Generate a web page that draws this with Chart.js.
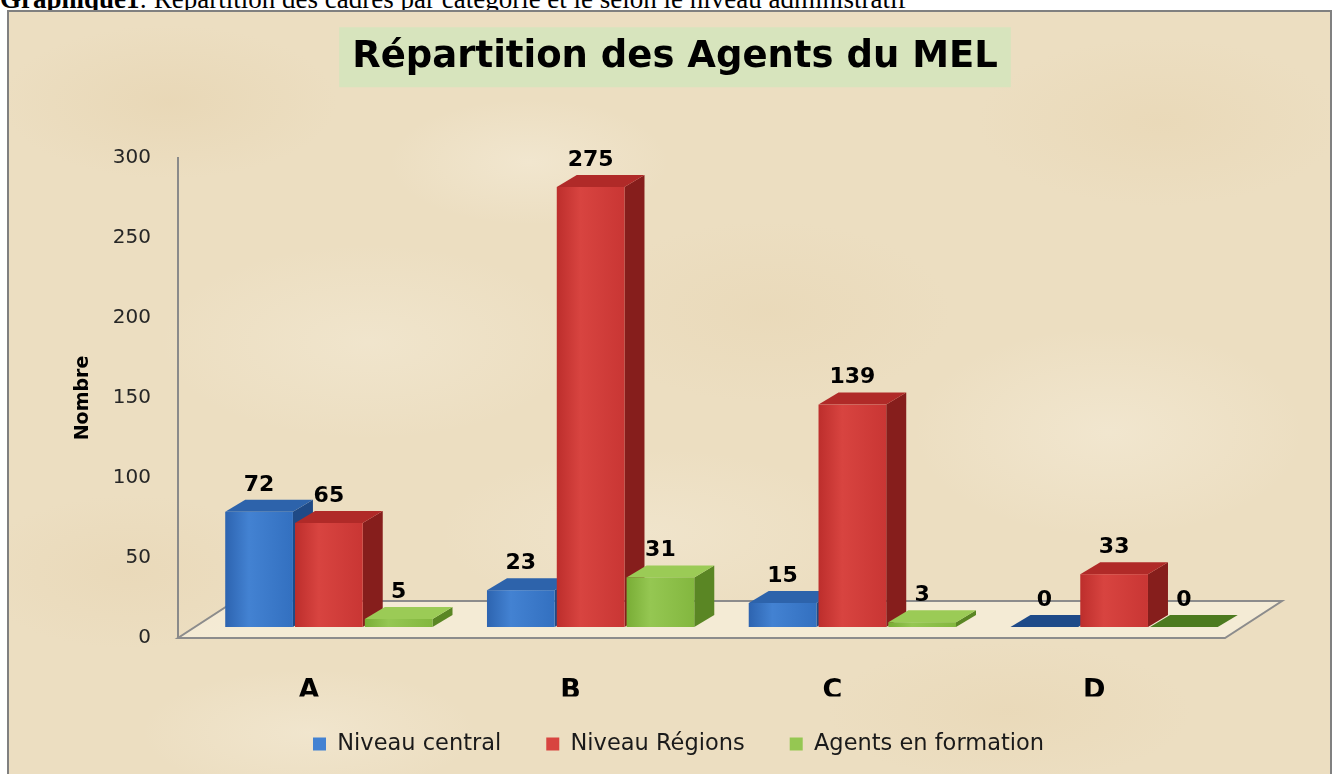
<!DOCTYPE html>
<html lang="fr">
<head>
<meta charset="utf-8">
<title>Répartition des Agents du MEL</title>
<script src="https://cdn.jsdelivr.net/npm/chart.js@4.4.1/dist/chart.umd.min.js"></script>
<style>
  html, body { margin: 0; padding: 0; background: #fff; overflow: hidden; }
  body { width: 1333px; height: 774px; position: relative; }
  #caption {
    position: absolute; left: 0; top: -16px; line-height: 27px;
    font: 27px "Liberation Serif", "Times New Roman", serif; color: #000; white-space: nowrap;
  }
  #frame {
    position: absolute; left: 7px; top: 10px; width: 1321px; height: 800px;
    border: 2px solid #808080;
    background-color: #ecdec1;
    background-image:
      radial-gradient(ellipse 240px 110px at 160px 90px, rgba(226,204,164,0.35), transparent 70%),
      radial-gradient(ellipse 200px 90px at 520px 150px, rgba(246,238,220,0.5), transparent 70%),
      radial-gradient(ellipse 260px 120px at 1150px 110px, rgba(228,206,166,0.3), transparent 70%),
      radial-gradient(ellipse 300px 140px at 360px 330px, rgba(245,237,218,0.45), transparent 70%),
      radial-gradient(ellipse 260px 130px at 760px 300px, rgba(228,208,170,0.3), transparent 70%),
      radial-gradient(ellipse 280px 150px at 1100px 420px, rgba(246,238,220,0.5), transparent 70%),
      radial-gradient(ellipse 220px 110px at 120px 560px, rgba(228,206,168,0.3), transparent 70%),
      radial-gradient(ellipse 300px 120px at 640px 520px, rgba(244,235,215,0.45), transparent 70%),
      radial-gradient(ellipse 260px 100px at 1000px 700px, rgba(228,207,168,0.3), transparent 70%),
      radial-gradient(ellipse 240px 90px at 300px 720px, rgba(246,238,220,0.45), transparent 70%);
  }
  #chart { position: absolute; left: 0; top: 0; }
</style>
</head>
<body>
<div id="caption"><b>Graphique1</b>: Répartition des cadres par catégorie et le selon le niveau administratif</div>
<div id="frame"></div>
<canvas id="chart" width="1333" height="774"></canvas>
<script>
// values
const categories = ['A', 'B', 'C', 'D'];
const seriesNames = ['Niveau central', 'Niveau Régions', 'Agents en formation'];
const niveauCentral = [72, 23, 15, 0];
const niveauRegions = [65, 275, 139, 33];
const agentsFormation = [5, 31, 3, 0];
const yTicks = [0, 50, 100, 150, 200, 250, 300];

// colours for the 3d boxes (front gradient, top, side, flat for zero values)
const shades = [
    {front: ['#2d64b0', '#4382d2', '#3370c0'], top: '#2d63ab', side: '#1f4a86', flat: '#1e4a88'},
    {front: ['#bd2e2c', '#d84440', '#c93634'], top: '#b02a28', side: '#861e1c', flat: '#9a2422'},
    {front: ['#79ad36', '#95c752', '#83b73f'], top: '#9bcb56', side: '#5a8624', flat: '#4c7a1f'}
];

const FLOOR_DEPTH = {x: 57, y: -37};
const BAR_SHIFT = {x: 20, y: -11};   // bars stand inside the floor, not on its front edge
const BAR_DEPTH = {x: 20, y: -12};

Chart.defaults.font.family = '"DejaVu Sans", sans-serif';

function poly(ctx, pts, fill) {
    ctx.beginPath();
    ctx.moveTo(pts[0][0], pts[0][1]);
    for (let k = 1; k < pts.length; k++) ctx.lineTo(pts[k][0], pts[k][1]);
    ctx.closePath();
    ctx.fillStyle = fill;
    ctx.fill();
}

// move title and legend to where they sit in the original
const placeBlocks = {
    id: 'placeBlocks',
    afterLayout(chart) {
        const t = chart.titleBlock;
        const dxT = 675 - (t.left + t.right) / 2;
        t.left += dxT;
        t.right += dxT;

        const lg = chart.legend;
        const pad = lg.options.labels.padding;
        const itemH = Math.max(lg.options.labels.font.size, lg.options.labels.boxHeight);
        const startX = (lg.left + pad + lg.right - lg.lineWidths[0]) / 2;
        const dx = 313 - startX;
        const dy = 744 - (lg.top + pad + itemH / 2);
        lg.left += dx; lg.right += dx;
        lg.top += dy; lg.bottom += dy;
    }
};

// light green box behind the title
const titleBox = {
    id: 'titleBox',
    beforeDraw(chart) {
        const {ctx} = chart;
        const t = chart.titleBlock;
        const f = t.options.font;
        ctx.save();
        ctx.font = 'bold ' + f.size + 'px ' + Chart.defaults.font.family;
        const w = ctx.measureText(t.options.text).width + 26;
        const cx = (t.left + t.right) / 2;
        const cy = t.top + t.options.padding.top + f.size * 0.6;
        ctx.fillStyle = '#d7e4bd';
        ctx.fillRect(cx - w / 2, cy - 30, w, 60);
        ctx.restore();
    }
};

// floor + 3d bars + value labels
const bars3d = {
    id: 'bars3d',
    beforeDatasetsDraw(chart) {
        const {ctx, chartArea: a, scales: {y}} = chart;
        const y0 = y.getPixelForValue(0);
        ctx.save();

        poly(ctx, [[a.left, y0], [a.right, y0], [a.right + FLOOR_DEPTH.x, y0 + FLOOR_DEPTH.y], [a.left + FLOOR_DEPTH.x, y0 + FLOOR_DEPTH.y]], 'rgba(255,250,238,0.45)');
        ctx.strokeStyle = '#8c8c8c';
        ctx.lineWidth = 2;
        ctx.stroke();

        const labels = [];
        for (let j = 0; j < categories.length; j++) {
            chart.data.datasets.forEach((ds, i) => {
                const el = chart.getDatasetMeta(i).data[j];
                const s = shades[i];
                const l = el.x - el.width / 2 + BAR_SHIFT.x;
                const r = el.x + el.width / 2 + BAR_SHIFT.x;
                const t = el.y + BAR_SHIFT.y;
                const b = el.base + BAR_SHIFT.y;
                const dx = BAR_DEPTH.x, dy = BAR_DEPTH.y;

                if (b - t > 0.5) {
                    poly(ctx, [[r, b], [r + dx, b + dy], [r + dx, t + dy], [r, t]], s.side);
                    poly(ctx, [[l, t], [l + dx, t + dy], [r + dx, t + dy], [r, t]], s.top);
                    const g = ctx.createLinearGradient(l, 0, r, 0);
                    g.addColorStop(0, s.front[0]);
                    g.addColorStop(0.35, s.front[1]);
                    g.addColorStop(1, s.front[2]);
                    ctx.fillStyle = g;
                    ctx.fillRect(l, t, r - l, b - t);
                } else {
                    poly(ctx, [[l, t], [l + dx, t + dy], [r + dx, t + dy], [r, t]], s.flat);
                }
                labels.push([ds.data[j], (l + r) / 2, t - 27]);
            });
        }

        ctx.fillStyle = '#000';
        ctx.font = 'bold 22px ' + Chart.defaults.font.family;
        ctx.textAlign = 'center';
        ctx.textBaseline = 'middle';
        labels.forEach(([v, x, yy]) => ctx.fillText(String(v), x, yy));
        ctx.restore();
        return false;
    }
};

const datasets = [niveauCentral, niveauRegions, agentsFormation].map((values, i) => ({
    label: seriesNames[i],
    data: values,
    backgroundColor: shades[i].front[1],
    borderWidth: 0,
    categoryPercentage: 0.8,
    barPercentage: 0.97
}));

new Chart(document.getElementById('chart'), {
    type: 'bar',
    data: {labels: categories, datasets: datasets},
    options: {
        responsive: false,
        animation: false,
        layout: {padding: {left: 10, right: 108, top: 0, bottom: 0}},
        plugins: {
            title: {
                display: true,
                text: 'Répartition des Agents du MEL',
                color: '#000',
                font: {size: 37, weight: 'bold'},
                padding: {top: 35, bottom: 158 - 35 - 37 * 1.2}
            },
            legend: {
                position: 'bottom',
                labels: {boxWidth: 13, boxHeight: 13, padding: 45, color: '#1a1a1a', font: {size: 22.5}}
            },
            tooltip: {enabled: false}
        },
        scales: {
            x: {
                grid: {display: false},
                border: {display: false},
                ticks: {color: '#000', font: {size: 27, weight: 'bold'}, padding: 29},
                afterFit: s => { s.height = 58.5; }
            },
            y: {
                min: yTicks[0],
                max: yTicks[yTicks.length - 1],
                ticks: {stepSize: yTicks[1] - yTicks[0], padding: 27, color: '#262626', font: {size: 20}},
                grid: {display: false, drawTicks: false},
                border: {display: true, color: '#8a8a8a', width: 2},
                title: {display: true, text: 'Nombre', color: '#000', font: {size: 19, weight: 'bold'}, padding: {top: 62, bottom: 0}},
                afterFit: s => { s.width = 168; }
            }
        }
    },
    plugins: [placeBlocks, titleBox, bars3d]
});
</script>
</body>
</html>
